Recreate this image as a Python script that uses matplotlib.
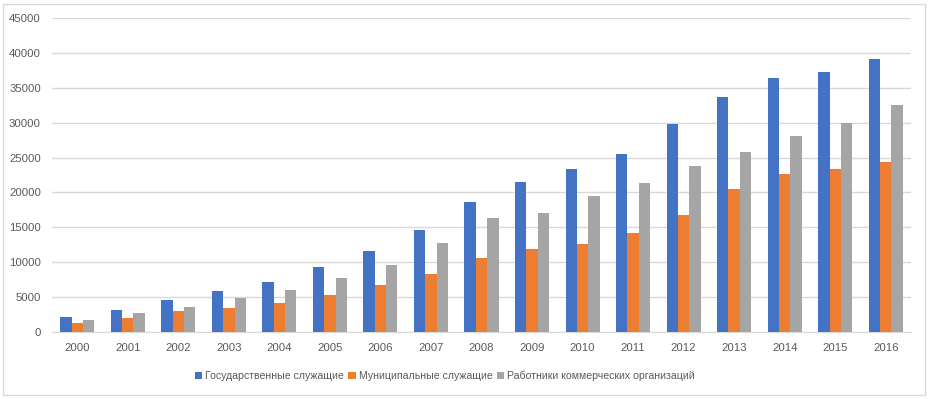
import numpy as np
import matplotlib.pyplot as plt
from matplotlib.patches import Rectangle

years = [str(y) for y in range(2000, 2017)]
state_servants = [2150, 3160, 4590, 5880, 7170, 9330, 11620, 14630, 18650, 21520,
                  23390, 25540, 29840, 33720, 36440, 37300, 39170]
municipal_servants = [1290, 2000, 3010, 3440, 4160, 5310, 6740, 8320, 10620, 11910,
                      12630, 14200, 16790, 20520, 22670, 23390, 24390]
commercial_workers = [1720, 2730, 3590, 4880, 6030, 7750, 9610, 12770, 16360, 17070,
                      19510, 21380, 23820, 25820, 28120, 29990, 32570]

series_names = ["Государственные служащие", "Муниципальные служащие",
                "Работники коммерческих организаций"]
colors = ["#4472C4", "#ED7D31", "#A5A5A5"]

plt.rcParams["font.family"] = ["Liberation Sans", "DejaVu Sans"]
text_color = "#595959"
grid_color = "#D9D9D9"

fig = plt.figure(figsize=(9.30, 3.99), dpi=100)
ax = fig.add_axes([52 / 930, 67 / 399, 859 / 930, 314 / 399])

x = np.arange(len(years))
w = 0.225
for i, (vals, name, c) in enumerate(zip(
        [state_servants, municipal_servants, commercial_workers], series_names, colors)):
    ax.bar(x + (i - 1) * w, vals, width=w, color=c, label=name, zorder=3)

ax.set_xlim(-0.5, len(years) - 0.5)
ax.set_ylim(0, 45000)
ax.set_yticks(range(0, 45001, 5000))
ax.set_xticks(x)
ax.set_xticklabels(years)
ax.yaxis.grid(True, color=grid_color, linewidth=1)
ax.set_axisbelow(True)
for side in ["top", "right", "left"]:
    ax.spines[side].set_visible(False)
ax.spines["bottom"].set_color(grid_color)
ax.tick_params(axis="both", length=0, labelsize=8.2, colors=text_color)
ax.tick_params(axis="y", pad=8)
ax.tick_params(axis="x", pad=8)

fig.legend(loc="center", bbox_to_anchor=(445 / 930, 1 - 376 / 399), ncol=3,
           frameon=False, fontsize=7.6, labelcolor=text_color,
           handlelength=0.7, handleheight=0.7, handletextpad=0.3, columnspacing=0.4)

fig.patches.append(Rectangle((3 / 930, 4 / 399), 922 / 930, 391 / 399,
                             transform=fig.transFigure, fill=False,
                             edgecolor=grid_color, linewidth=1))

fig.savefig("out.png", dpi=100)
